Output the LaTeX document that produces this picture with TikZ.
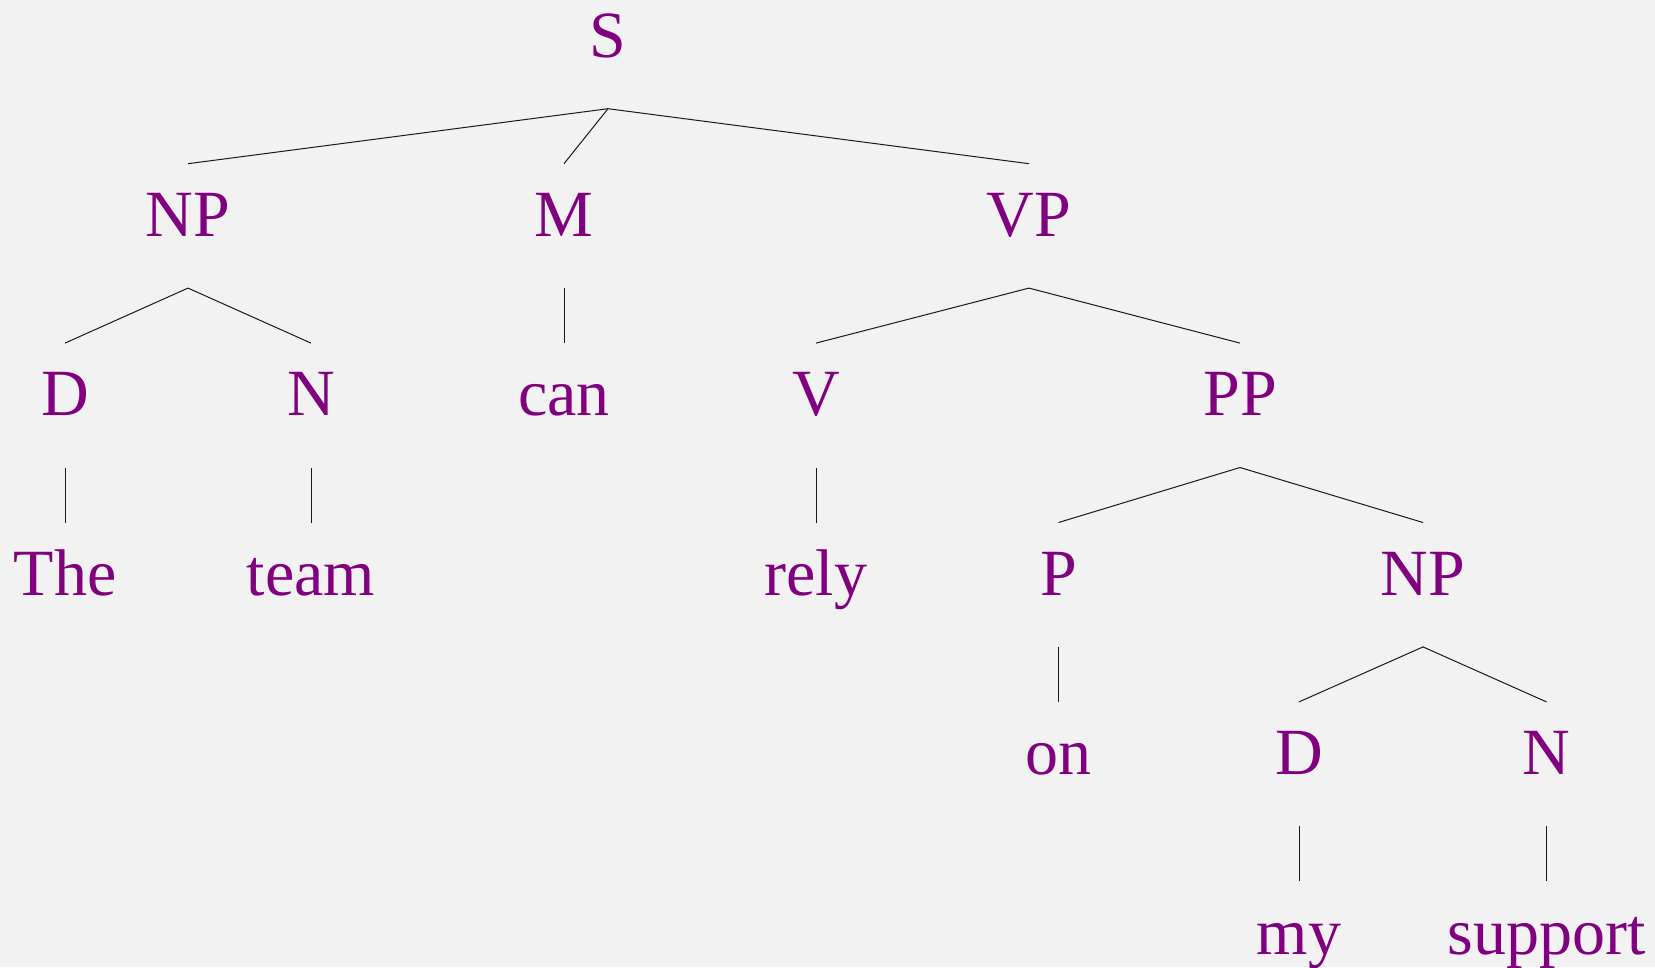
\documentclass[tikz,border=0pt]{standalone}
\usepackage{fontspec}
\setmainfont{Liberation Serif}
\definecolor{bg}{HTML}{F2F2F2}
\definecolor{lab}{HTML}{800080}
\begin{document}
\begin{tikzpicture}[x=1pt,y=-1pt,
  lbl/.style={anchor=base,inner sep=0pt,text=lab,font=\fontsize{66}{70}\selectfont},
  edge/.style={line width=1pt,draw=black!90}]
\fill[bg] (0,0) rectangle (1655,967);
\useasboundingbox (0,0) rectangle (1655,967);
% row baselines: 57, 236.4, 415.8, 595.2, 774.6, 954
\node[lbl] (S) at (608,57) {S};
\node[lbl] (NP) at (188,236.4) {NP};
\node[lbl] (M) at (564,236.4) {M};
\node[lbl] (VP) at (1029,236.4) {VP};
\node[lbl] (D) at (65,415.8) {D};
\node[lbl] (N) at (311,415.8) {N};
\node[lbl] (can) at (564,415.8) {can};
\node[lbl] (V) at (816,415.8) {V};
\node[lbl] (PP) at (1240,415.8) {PP};
\node[lbl] (The) at (65,595.2) {The};
\node[lbl] (team) at (311,595.2) {team};
\node[lbl] (rely) at (816,595.2) {rely};
\node[lbl] (P) at (1058.5,595.2) {P};
\node[lbl] (NPb) at (1423,595.2) {NP};
\node[lbl] (on) at (1058.5,774.6) {on};
\node[lbl] (Db) at (1299,774.6) {D};
\node[lbl] (Nb) at (1546.5,774.6) {N};
\node[lbl] (my) at (1299,954) {my};
\node[lbl] (support) at (1546.5,954) {support};
\foreach \a/\b in {S/NP,S/M,S/VP,NP/D,NP/N,M/can,VP/V,VP/PP,D/The,N/team,V/rely,PP/P,PP/NPb,P/on,NPb/Db,NPb/Nb,Db/my,Nb/support}
  \draw[edge] ([yshift=-51.7pt]\a.base) -- ([yshift=72.7pt]\b.base);
\end{tikzpicture}
\end{document}
